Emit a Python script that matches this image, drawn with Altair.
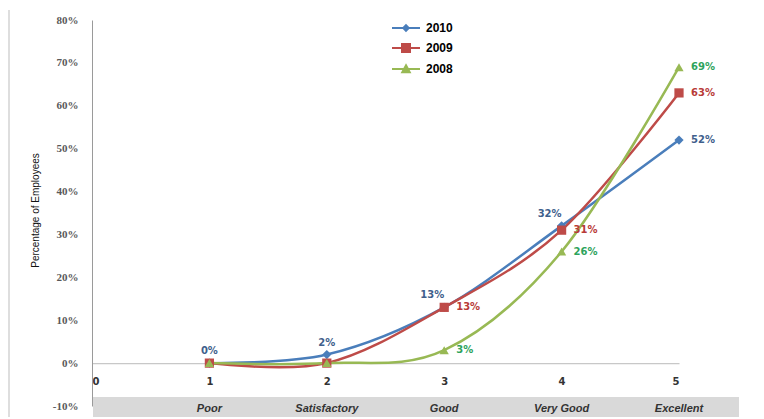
import altair as alt
import pandas as pd

categories = ["Poor", "Satisfactory", "Good", "Very Good", "Excellent"]
levels = [1, 2, 3, 4, 5]
series = ["2010", "2009", "2008"]
values_2010 = [0, 2, 13, 32, 52]
values_2009 = [0, 0, 13, 31, 63]
values_2008 = [0, 0, 3, 26, 69]
x_ticks = [0, 1, 2, 3, 4, 5]
y_ticks = [-10, 0, 10, 20, 30, 40, 50, 60, 70, 80]

line_colors = ["#4a7ebb", "#be4b48", "#98b954"]
label_colors = ["#3f5f8c", "#b83b38", "#2ea35c"]
shapes = ["diamond", "square", "triangle-up"]
# legend glyphs: a line segment with the series marker on it
legend_shapes = [
    "M-2.8,0H2.8M0,-0.55L0.55,0L0,0.55L-0.55,0Z",
    "M-2.8,0H2.8M-0.8,-0.8H0.8V0.8H-0.8Z",
    "M-2.8,0H2.8M0,-0.75L0.75,0.65H-0.75Z",
]

rows = []
for s, vals in zip(series, [values_2010, values_2009, values_2008]):
    for lv, cat, v in zip(levels, categories, vals):
        rows.append({"series": s, "level": lv, "category": cat, "value": v})
df = pd.DataFrame(rows)
cat_df = pd.DataFrame({"level": levels, "category": categories})

W, H = 587, 386

x_scale = alt.Scale(domain=[0, 5], nice=False, zero=False)
y_scale = alt.Scale(domain=[-10, 80], nice=False, zero=False)

x_enc = alt.X("level:Q", scale=x_scale, axis=alt.Axis(
    values=x_ticks, format="d", offset=-H * 10 / 90, ticks=False, grid=False,
    domainColor="#c8c8c8", domainWidth=1.2, labelFont="DejaVu Sans", labelFontWeight="bold",
    labelFontSize=10, labelColor="#333333", labelPadding=13, title=None))
y_enc = alt.Y("value:Q", scale=y_scale, axis=alt.Axis(
    values=y_ticks, labelExpr="datum.value + '%'", ticks=False, grid=False,
    domainColor="#9a9a9a", labelFont="Liberation Serif", labelFontWeight="bold",
    labelFontSize=11, labelColor="#595959", labelPadding=14,
    title="Percentage of Employees", titleFont="Liberation Sans", titleFontSize=10,
    titleFontWeight="normal", titleColor="#111111", titleX=-57, titleY=190,
    titleAlign="center", titleBaseline="middle"))
x_plain = alt.X("level:Q", scale=x_scale)
y_plain = alt.Y("value:Q", scale=y_scale)

base = alt.Chart(df)

band = alt.Chart(alt.Data(values=[{}])).mark_rect(color="#d9d9d9").encode(
    x=alt.value(1), x2=alt.value(647), y=alt.value(377), y2=alt.value(400))

frame = alt.Chart(alt.Data(values=[{}])).mark_rule(color="#bdbdbd", strokeWidth=1).encode(
    x=alt.value(-83), y=alt.value(-10), y2=alt.value(400))

cat_text = alt.Chart(cat_df).mark_text(
    font="Liberation Sans", fontStyle="italic", fontWeight="bold", fontSize=11,
    color="#333333", baseline="middle").encode(
    x=x_plain, y=alt.value(389), text="category:N")

line_color = alt.Color("series:N", scale=alt.Scale(domain=series, range=line_colors), legend=None)

lines = base.mark_line(interpolate="cardinal", strokeWidth=2.5).encode(
    x=x_enc, y=y_enc, color=line_color, detail="series:N")

points = base.mark_point(filled=True, size=85, opacity=1).encode(
    x=x_plain, y=y_plain, color=line_color,
    shape=alt.Shape("series:N", scale=alt.Scale(domain=series, range=shapes), legend=None))

leg = alt.Legend(orient="none", legendX=308, legendY=2, title=None,
                 symbolSize=100, symbolStrokeWidth=2, labelFont="Liberation Sans",
                 labelFontWeight="bold", labelFontSize=12, labelColor="#000000",
                 labelOffset=14, padding=0, rowPadding=5)
legend_layer = base.transform_filter("false").mark_point(filled=True, size=100, strokeWidth=2, opacity=1).encode(
    x=x_plain, y=y_plain,
    fill=alt.Fill("series:N", scale=alt.Scale(domain=series, range=line_colors), legend=leg),
    stroke=alt.Stroke("series:N", scale=alt.Scale(domain=series, range=line_colors), legend=leg),
    shape=alt.Shape("series:N", scale=alt.Scale(domain=series, range=legend_shapes), legend=leg))

text_base = base.transform_calculate(lbl="format(datum.value, 'd') + '%'")
txt_color = alt.Color("series:N", scale=alt.Scale(domain=series, range=label_colors), legend=None)
font_kw = dict(font="DejaVu Sans", fontWeight="bold", fontSize=10)

lab_above_c = text_base.transform_filter("datum.series == '2010' && datum.level <= 2").mark_text(
    dy=-12, align="center", baseline="middle", **font_kw).encode(
    x=x_plain, y=y_plain, text="lbl:N", color=txt_color)
lab_above_l = text_base.transform_filter("datum.series == '2010' && datum.level >= 3 && datum.level <= 4").mark_text(
    dy=-12, dx=-12, align="center", baseline="middle", **font_kw).encode(
    x=x_plain, y=y_plain, text="lbl:N", color=txt_color)
lab_right = text_base.transform_filter("(datum.series == '2010' && datum.level == 5) || (datum.series != '2010' && datum.level >= 3)").mark_text(
    dx=12, align="left", baseline="middle", **font_kw).encode(
    x=x_plain, y=y_plain, text="lbl:N", color=txt_color)

chart = alt.layer(band, frame, cat_text, lines, points, legend_layer,
                  lab_above_c, lab_above_l, lab_right).resolve_scale(
    color="independent", shape="independent", fill="independent", stroke="independent").properties(
    width=W, height=H,
    padding={"left": 84, "top": 12, "right": 77, "bottom": 11},
    autosize=alt.AutoSizeParams(type="none")).configure_view(stroke=None)

chart.save("out.html", embed_options={"renderer": "svg", "actions": False})
